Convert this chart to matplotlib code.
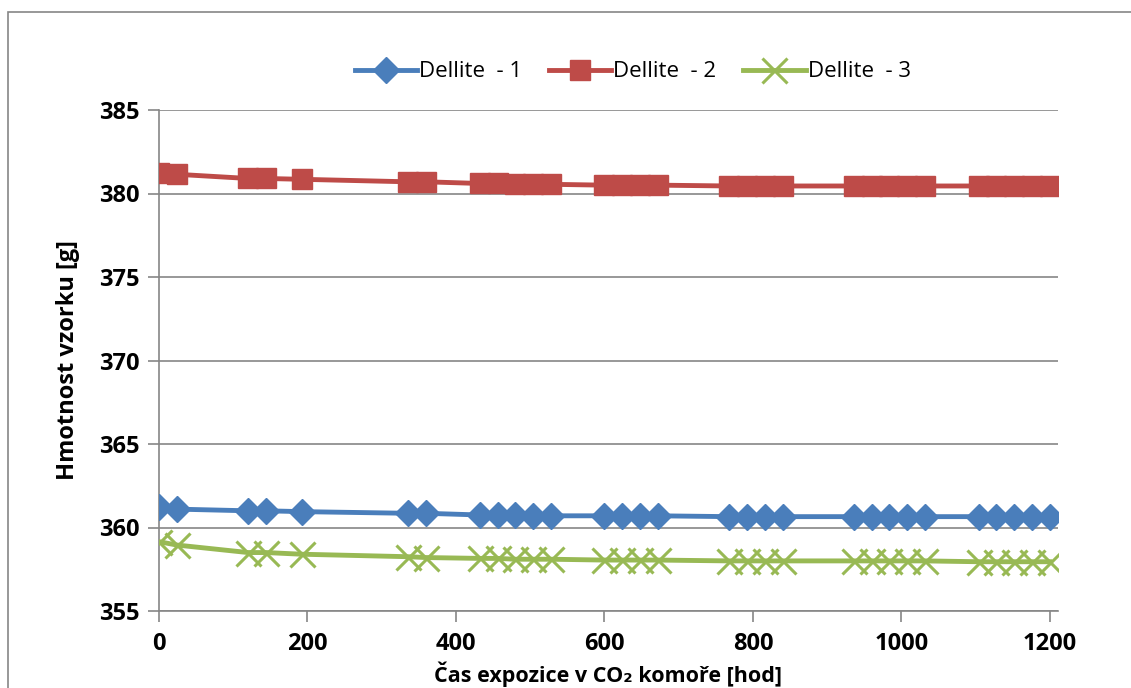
import matplotlib
matplotlib.use("Agg")
from matplotlib import pyplot as plt
from matplotlib.patches import Rectangle

plt.rcParams['font.family'] = ['Open Sans', 'DejaVu Sans']

# time of exposure [hod]
hours = [0, 24, 120, 144, 192, 336, 360, 432, 456, 480, 504, 528,
         600, 624, 648, 672, 768, 792, 816, 840, 936, 960, 984, 1008, 1032,
         1104, 1128, 1152, 1176, 1200]

dellite_1 = [361.2, 361.1, 361.0, 361.0, 360.95, 360.85, 360.85, 360.75, 360.75, 360.75,
             360.7, 360.7, 360.7, 360.7, 360.7, 360.7, 360.65, 360.65, 360.65, 360.65,
             360.65, 360.65, 360.65, 360.65, 360.65, 360.65, 360.65, 360.65, 360.65, 360.65]
dellite_2 = [381.25, 381.15, 380.9, 380.9, 380.85, 380.7, 380.7, 380.6, 380.6, 380.55,
             380.55, 380.55, 380.5, 380.5, 380.5, 380.5, 380.45, 380.45, 380.45, 380.45,
             380.45, 380.45, 380.45, 380.45, 380.45, 380.45, 380.45, 380.45, 380.45, 380.45]
dellite_3 = [359.15, 358.95, 358.5, 358.5, 358.4, 358.25, 358.2, 358.15, 358.15, 358.1,
             358.1, 358.1, 358.05, 358.05, 358.05, 358.05, 358.0, 358.0, 358.0, 358.0,
             358.0, 358.0, 358.0, 358.0, 358.0, 357.95, 357.95, 357.95, 357.95, 357.95]

labels = ['Dellite  - 1', 'Dellite  - 2', 'Dellite  - 3']
x_ticks = [0, 200, 400, 600, 800, 1000, 1200]
y_ticks = [355, 360, 365, 370, 375, 380, 385]

fig = plt.figure(figsize=(11.31, 6.88), dpi=100)
ax = fig.add_axes([159 / 1131, 1 - 611 / 688, (1058 - 159) / 1131, (611 - 110) / 688])

# chart area border
fig.patches.append(Rectangle((8 / 1131, -0.1), 1.2, 1 - 12 / 688 + 0.1,
                             transform=fig.transFigure, fill=False,
                             edgecolor='#868686', linewidth=1.2))

ax.plot(hours, dellite_1, color='#4A7EBB', lw=3.5, marker='D', ms=13,
        label=labels[0], zorder=3)
ax.plot(hours, dellite_2, color='#BE4B48', lw=3.5, marker='s', ms=14,
        label=labels[1], zorder=3)
ax.plot(hours, dellite_3, color='#98B954', lw=3.5, marker='x', ms=18, mew=2.2,
        label=labels[2], zorder=3)

ax.set_xlim(0, 1211)
ax.set_ylim(355, 385)
ax.set_xticks(x_ticks)
ax.set_yticks(y_ticks)
ax.grid(axis='y', color='#868686', lw=1.2)
ax.set_axisbelow(True)
for s in ['top', 'right']:
    ax.spines[s].set_visible(False)
for s in ['left', 'bottom']:
    ax.spines[s].set_color('#868686')
    ax.spines[s].set_linewidth(1.2)
ax.tick_params(axis='both', color='#868686', width=1.2, length=8, labelsize=17)
ax.tick_params(axis='x', pad=7)
ax.tick_params(axis='y', pad=6)
for t in ax.get_xticklabels() + ax.get_yticklabels():
    t.set_fontweight('bold')

ax.set_ylabel('Hmotnost vzorku [g]', fontsize=17, fontweight='bold', labelpad=14)
ax.set_xlabel('Čas expozice v CO₂ komoře [hod]', fontsize=15.5, fontweight='bold',
              labelpad=4)

ax.legend(loc='lower center', bbox_to_anchor=(0.527, 1.015), ncol=3, frameon=False,
          fontsize=16, handlelength=2.8, handletextpad=0.1, columnspacing=1.2)

fig.savefig('out.png', dpi=100)
